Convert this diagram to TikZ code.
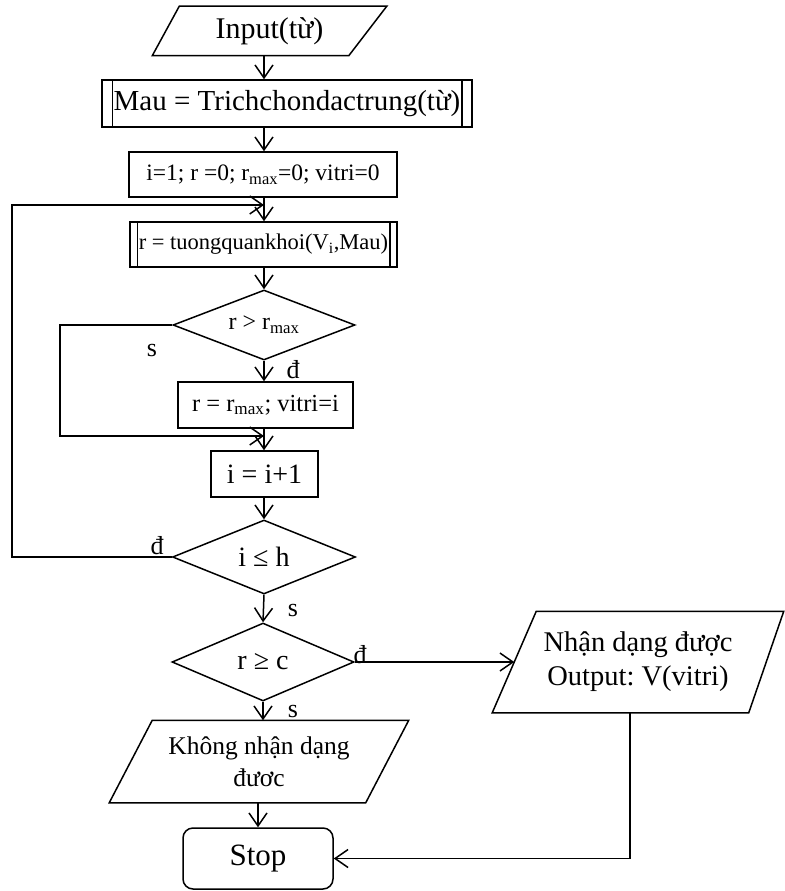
\documentclass[tikz,border=0pt]{standalone}
\usepackage{fontspec}
\setmainfont{Liberation Serif}
\usetikzlibrary{arrows.meta,calc,shapes.geometric}
\frenchspacing
\begin{document}
\begin{tikzpicture}[x=1pt,y=-1pt,line width=1.5pt,
  box/.style={draw,rectangle,inner sep=0pt},
  dia/.style={draw,diamond,aspect=2.5,inner sep=0pt},
  slab/.style={inner sep=0pt,align=center},
  arr/.style={-{Straight Barb[length=13pt,width=18pt]}},
  lbl/.style={inner sep=0pt,font=\fontsize{26}{30}\selectfont},
]
\useasboundingbox (0,0) rectangle (784,891);

% main vertical axis and the return lines
\coordinate (ax) at (264,0);
\coordinate (lx1) at (60,0);
\coordinate (lx2) at (12,0);
\coordinate (ox) at (630,0);
\coordinate (j1) at (264,205);
\coordinate (j2) at (264,436);

% input
\node[slab,minimum width=233pt,minimum height=48pt,font=\fontsize{30}{34}\selectfont] (in) at (269.5,31) {Input(từ)};
\draw ($(in.north west)+(27,0)$) -- (in.north east) -- ($(in.south east)+(-38,0)$) -- (in.south west) -- cycle;

% predefined process: feature extraction
\node[box,minimum width=370pt,minimum height=47pt,font=\fontsize{29}{34}\selectfont] (mau) at (287,103.5) {Mau = Trichchondactrung(từ)};
\draw ($(mau.north west)+(11,0)$) -- ($(mau.south west)+(11,0)$);
\draw ($(mau.north east)+(-11,0)$) -- ($(mau.south east)+(-11,0)$);

% initialisation
\node[box,minimum width=268pt,minimum height=45pt,font=\fontsize{23.5}{28}\selectfont] (init) at (263,174.5) {i=1; r =0; r\textsubscript{max}=0; vitri=0};

% predefined process: block correlation
\node[box,minimum width=267pt,minimum height=45pt,font=\fontsize{22.5}{27}\selectfont] (tq) at (263.5,244.5) {r = tuongquankhoi(V\textsubscript{i},Mau)};
\draw ($(tq.north west)+(8,0)$) -- ($(tq.south west)+(8,0)$);
\draw ($(tq.north east)+(-8,0)$) -- ($(tq.south east)+(-8,0)$);

% first decision
\node[dia,minimum width=182pt,minimum height=70pt,font=\fontsize{24}{28}\selectfont] (d1) at (264,325) {r > r\textsubscript{max}};

\node[box,minimum width=175pt,minimum height=46pt,font=\fontsize{24.5}{29}\selectfont] (rm) at (265.5,405) {r = r\textsubscript{max}; vitri=i};

\node[box,minimum width=107pt,minimum height=46pt,font=\fontsize{28}{33}\selectfont] (inc) at (264.5,474) {i = i+1};

% loop test
\node[dia,minimum width=183pt,minimum height=74pt,font=\fontsize{28}{33}\selectfont] (d2) at (264,557) {i ≤ h};

% threshold test
\node[dia,minimum width=182pt,minimum height=78pt,font=\fontsize{28}{33}\selectfont] (d3) at (263,662) {r ≥ c};

% recognised output
\node[slab,minimum width=290pt,minimum height=100pt,font=\fontsize{28.5}{34}\selectfont] (nh) at (638,662) {Nhận dạng được\\Output: V(vitri)};
\draw ($(nh.north west)+(44,0)$) -- (nh.north east) -- ($(nh.south east)+(-35,0)$) -- (nh.south west) -- cycle;
\coordinate (nhin) at ($(nh.west)+(22,0)$);

% not recognised
\node[slab,minimum width=298pt,minimum height=81pt,font=\fontsize{25.5}{32}\selectfont] (kh) at (259,761.5) {Không nhận dạng\\đươc};
\draw ($(kh.north west)+(43,0)$) -- (kh.north east) -- ($(kh.south east)+(-43,0)$) -- (kh.south west) -- cycle;

% terminal
\node[box,rounded corners=10pt,minimum width=150pt,minimum height=61pt,font=\fontsize{31}{36}\selectfont] (stop) at (258,858.5) {Stop};

% connectors
\draw[arr] (in.south -| ax) -- (mau.north -| ax);
\draw[arr] (mau.south -| ax) -- (init.north -| ax);
\draw[arr] (init.south -| ax) -- (tq.north -| ax);
\draw[arr] (d2.west) -- (d2.west -| lx2) |- (j1);
\draw[arr] (tq.south -| ax) -- (d1.north);
\draw[arr] (d1.south) -- (rm.north -| d1.south);
\draw[arr] (d1.west) -- (d1.west -| lx1) |- (j2);
\draw[arr] (rm.south -| ax) -- (inc.north -| ax);
\draw[arr] (inc.south -| ax) -- (d2.north);
\draw[arr] (d2.south) -- (d3.north);
\draw[arr] (d3.east) -- (nhin);
\draw[arr] (d3.south) -- (d3.south |- kh.north);
\draw[arr] (kh.south -| stop) -- (stop.north);
\draw[arr] (nh.south -| ox) |- (stop.east);

% branch labels
\node[lbl] (s1) at (152,350) {s};
\node[lbl] (t1) at (293,370) {đ};
\node[lbl] (t2) at (157,546) {đ};
\node[lbl] (s2) at (293,610) {s};
\node[lbl] (t3) at (360,655) {đ};
\node[lbl] (s3) at (293,711) {s};
\end{tikzpicture}
\end{document}
